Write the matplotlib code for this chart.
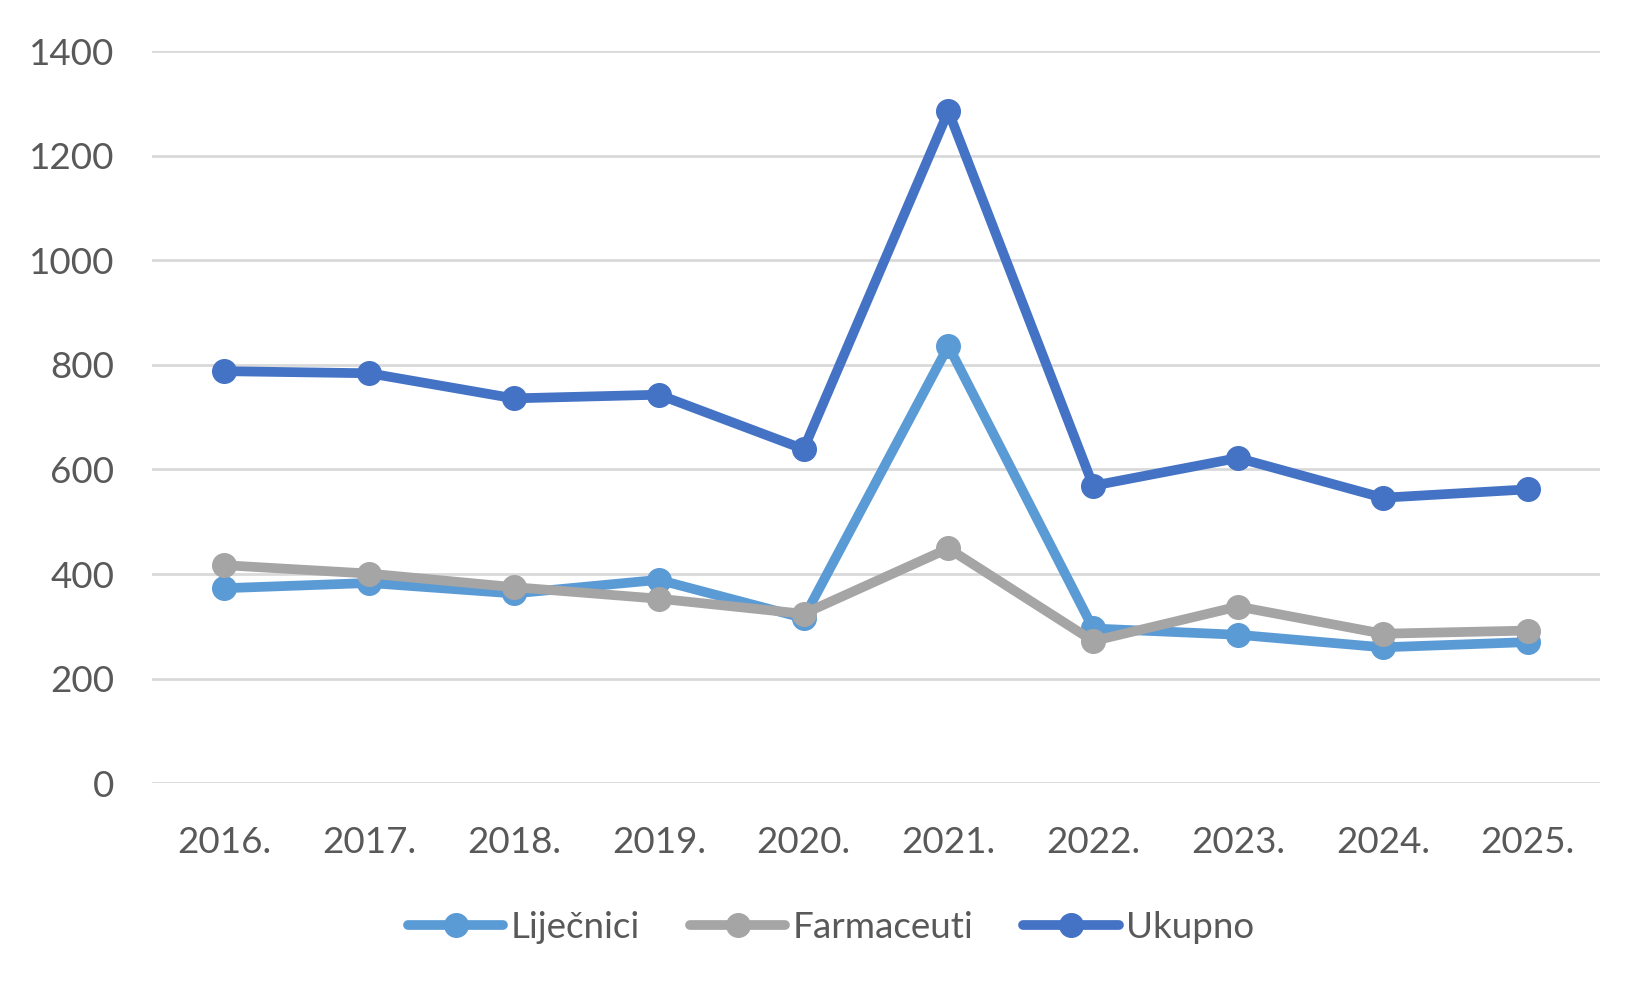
import matplotlib
matplotlib.use("Agg")
import matplotlib.pyplot as plt

years = ["2016.", "2017.", "2018.", "2019.", "2020.", "2021.", "2022.", "2023.", "2024.", "2025."]
lijecnici = [373, 383, 363, 389, 316, 836, 296, 284, 260, 270]
farmaceuti = [417, 401, 375, 353, 324, 449, 272, 338, 286, 292]
ukupno = [788, 784, 736, 743, 639, 1285, 569, 622, 546, 562]
yticks = [0, 200, 400, 600, 800, 1000, 1200, 1400]

plt.rcParams['font.family'] = ['Lato', 'DejaVu Sans']
W, H = 1652, 996
fig = plt.figure(figsize=(W / 100, H / 100), dpi=100)
left, right, top, bottom = 152, 1600, 51.1, 783.3
ax = fig.add_axes([left / W, 1 - bottom / H, (right - left) / W, (bottom - top) / H])

x = list(range(len(years)))
series = [("Liječnici", lijecnici, "#5B9BD5"),
          ("Farmaceuti", farmaceuti, "#A5A5A5"),
          ("Ukupno", ukupno, "#4472C4")]
for name, vals, col in series:
    ax.plot(x, vals, color=col, lw=7, marker="o", ms=17, label=name,
            solid_capstyle="round", solid_joinstyle="round", zorder=3)

ax.set_xlim(-0.5, len(years) - 0.5)
ax.set_ylim(0, 1400)
ax.set_yticks(yticks)
ax.set_xticks(x)
ax.set_xticklabels(years)
ax.grid(axis="y", color="#D9D9D9", lw=2)
ax.set_axisbelow(True)
for s in ax.spines.values():
    s.set_visible(False)
ax.tick_params(axis="both", length=0, labelsize=26.5, colors="#595959")
ax.tick_params(axis="y", pad=27)
ax.tick_params(axis="x", pad=31)

fig.legend(loc="center", bbox_to_anchor=(831 / W, 1 - 927 / H), ncol=3, frameon=False,
           fontsize=26.5, labelcolor="#595959", handlelength=2.6, handletextpad=0.2,
           columnspacing=1.35, markerscale=1.0)

fig.savefig("out.png", dpi=100)
